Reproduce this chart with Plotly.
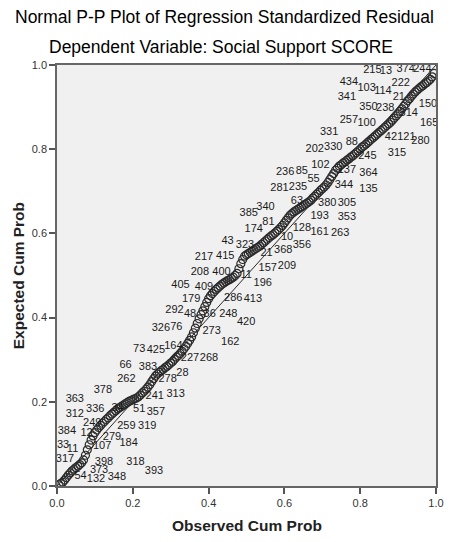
import plotly.graph_objects as go

# Observed cumulative probability (x) and expected cumulative probability (y) of the residual points
observed = [0.005, 0.010, 0.015, 0.020, 0.025, 0.030, 0.035, 0.040, 0.045, 0.050,
            0.055, 0.060, 0.065, 0.070, 0.075, 0.080, 0.085, 0.090, 0.095, 0.100,
            0.105, 0.110, 0.115, 0.120, 0.125, 0.130, 0.135, 0.140, 0.145, 0.150,
            0.155, 0.160, 0.165, 0.170, 0.175, 0.180, 0.185, 0.190, 0.195, 0.200,
            0.205, 0.210, 0.215, 0.220, 0.225, 0.230, 0.235, 0.240, 0.245, 0.250,
            0.255, 0.260, 0.265, 0.270, 0.275, 0.280, 0.285, 0.290, 0.295, 0.300,
            0.305, 0.310, 0.315, 0.320, 0.325, 0.330, 0.335, 0.340, 0.345, 0.350,
            0.355, 0.360, 0.365, 0.370, 0.375, 0.380, 0.385, 0.390, 0.395, 0.400,
            0.405, 0.410, 0.415, 0.420, 0.425, 0.430, 0.435, 0.440, 0.445, 0.450,
            0.455, 0.460, 0.465, 0.470, 0.475, 0.480, 0.485, 0.490, 0.495, 0.500,
            0.505, 0.510, 0.515, 0.520, 0.525, 0.530, 0.535, 0.540, 0.545, 0.550,
            0.555, 0.560, 0.565, 0.570, 0.575, 0.580, 0.585, 0.590, 0.595, 0.600,
            0.605, 0.610, 0.615, 0.620, 0.625, 0.630, 0.635, 0.640, 0.645, 0.650,
            0.655, 0.660, 0.665, 0.670, 0.675, 0.680, 0.685, 0.690, 0.695, 0.700,
            0.705, 0.710, 0.715, 0.720, 0.725, 0.730, 0.735, 0.740, 0.745, 0.750,
            0.755, 0.760, 0.765, 0.770, 0.775, 0.780, 0.785, 0.790, 0.795, 0.800,
            0.805, 0.810, 0.815, 0.820, 0.825, 0.830, 0.835, 0.840, 0.845, 0.850,
            0.855, 0.860, 0.865, 0.870, 0.875, 0.880, 0.885, 0.890, 0.895, 0.900,
            0.905, 0.910, 0.915, 0.920, 0.925, 0.930, 0.935, 0.940, 0.945, 0.950,
            0.955, 0.960, 0.965, 0.970, 0.975, 0.980, 0.985, 0.990, 0.995]
expected = [0.003, 0.006, 0.009, 0.014, 0.020, 0.026, 0.031, 0.036, 0.040, 0.044,
            0.047, 0.051, 0.055, 0.062, 0.073, 0.086, 0.098, 0.109, 0.119, 0.127,
            0.133, 0.139, 0.144, 0.149, 0.153, 0.158, 0.162, 0.167, 0.171, 0.175,
            0.179, 0.183, 0.186, 0.189, 0.192, 0.195, 0.198, 0.201, 0.203, 0.205,
            0.207, 0.209, 0.212, 0.216, 0.221, 0.225, 0.230, 0.235, 0.241, 0.248,
            0.255, 0.261, 0.266, 0.270, 0.274, 0.277, 0.281, 0.284, 0.288, 0.292,
            0.296, 0.301, 0.306, 0.310, 0.315, 0.320, 0.326, 0.332, 0.339, 0.346,
            0.354, 0.364, 0.375, 0.386, 0.397, 0.407, 0.416, 0.426, 0.436, 0.445,
            0.452, 0.457, 0.462, 0.467, 0.471, 0.475, 0.479, 0.482, 0.485, 0.488,
            0.490, 0.493, 0.496, 0.500, 0.505, 0.516, 0.528, 0.538, 0.546, 0.549,
            0.552, 0.555, 0.558, 0.561, 0.564, 0.567, 0.570, 0.574, 0.578, 0.582,
            0.586, 0.590, 0.594, 0.597, 0.601, 0.605, 0.609, 0.614, 0.619, 0.625,
            0.631, 0.637, 0.643, 0.647, 0.651, 0.654, 0.657, 0.660, 0.663, 0.666,
            0.669, 0.672, 0.675, 0.679, 0.684, 0.688, 0.693, 0.697, 0.702, 0.706,
            0.710, 0.715, 0.721, 0.728, 0.735, 0.742, 0.750, 0.755, 0.760, 0.763,
            0.767, 0.770, 0.774, 0.777, 0.781, 0.784, 0.788, 0.792, 0.796, 0.800,
            0.805, 0.808, 0.812, 0.816, 0.820, 0.824, 0.828, 0.832, 0.836, 0.840,
            0.844, 0.848, 0.852, 0.856, 0.860, 0.864, 0.869, 0.874, 0.879, 0.884,
            0.890, 0.896, 0.902, 0.908, 0.915, 0.920, 0.926, 0.931, 0.936, 0.940,
            0.944, 0.948, 0.951, 0.955, 0.958, 0.962, 0.966, 0.972, 0.980]

# Case-number labels and where they sit (data coordinates)
label_text = ["215", "13", "374", "244", "434", "103", "114", "222", "21", "341",
              "350", "238", "314", "150", "257", "100", "165", "331", "42", "121",
              "280", "202", "330", "88", "245", "315", "236", "85", "102", "55",
              "137", "364", "344", "135", "281", "235", "63", "380", "305", "340",
              "385", "193", "353", "81", "174", "128", "161", "263", "10", "43",
              "323", "356", "368", "21", "217", "415", "157", "209", "208", "400",
              "11", "196", "405", "409", "179", "286", "413", "292", "48", "36",
              "248", "420", "326", "76", "273", "162", "73", "425", "164", "227",
              "268", "66", "383", "262", "278", "28", "378", "241", "313", "363",
              "336", "34", "51", "357", "312", "249", "259", "319", "384", "12",
              "279", "184", "33", "11", "107", "317", "398", "318", "373", "393",
              "54", "132", "348"]
label_x = [0.832, 0.868, 0.920, 0.964, 0.770, 0.817, 0.860, 0.907, 0.902, 0.765,
           0.822, 0.866, 0.928, 0.979, 0.770, 0.817, 0.982, 0.718, 0.881, 0.922,
           0.959, 0.680, 0.729, 0.778, 0.819, 0.897, 0.602, 0.646, 0.695, 0.677,
           0.765, 0.822, 0.757, 0.822, 0.587, 0.636, 0.633, 0.713, 0.765, 0.550,
           0.506, 0.693, 0.765, 0.558, 0.519, 0.646, 0.693, 0.747, 0.607, 0.450,
           0.496, 0.646, 0.597, 0.553, 0.388, 0.444, 0.556, 0.607, 0.377, 0.434,
           0.499, 0.543, 0.326, 0.388, 0.354, 0.465, 0.517, 0.310, 0.351, 0.403,
           0.452, 0.499, 0.274, 0.315, 0.408, 0.457, 0.217, 0.261, 0.307, 0.351,
           0.401, 0.181, 0.240, 0.183, 0.292, 0.331, 0.121, 0.258, 0.313, 0.047,
           0.101, 0.160, 0.217, 0.261, 0.047, 0.093, 0.183, 0.238, 0.026, 0.078,
           0.145, 0.189, 0.016, 0.041, 0.119, 0.021, 0.124, 0.207, 0.111, 0.256,
           0.062, 0.103, 0.158]
label_y = [0.988, 0.986, 0.990, 0.990, 0.960, 0.945, 0.938, 0.957, 0.924, 0.924,
           0.900, 0.898, 0.886, 0.907, 0.869, 0.862, 0.862, 0.841, 0.829, 0.829,
           0.819, 0.800, 0.805, 0.817, 0.784, 0.791, 0.746, 0.748, 0.762, 0.729,
           0.751, 0.743, 0.715, 0.705, 0.708, 0.710, 0.677, 0.672, 0.672, 0.663,
           0.648, 0.641, 0.639, 0.627, 0.610, 0.613, 0.603, 0.601, 0.591, 0.582,
           0.572, 0.572, 0.561, 0.553, 0.544, 0.546, 0.518, 0.523, 0.508, 0.508,
           0.501, 0.482, 0.477, 0.473, 0.444, 0.447, 0.444, 0.418, 0.409, 0.409,
           0.409, 0.390, 0.375, 0.378, 0.368, 0.342, 0.325, 0.323, 0.333, 0.304,
           0.304, 0.287, 0.283, 0.254, 0.254, 0.268, 0.228, 0.214, 0.219, 0.207,
           0.183, 0.185, 0.183, 0.176, 0.171, 0.150, 0.143, 0.143, 0.131, 0.126,
           0.116, 0.102, 0.097, 0.088, 0.095, 0.064, 0.057, 0.057, 0.038, 0.036,
           0.024, 0.017, 0.021]

ref_line = [0.0, 1.0]
tick_vals = [0.0, 0.2, 0.4, 0.6, 0.8, 1.0]
tick_text = ["0.0", "0.2", "0.4", "0.6", "0.8", "1.0"]

FONT = "Liberation Sans, Arial, sans-serif"

fig = go.Figure()
fig.add_trace(go.Scatter(x=ref_line, y=ref_line, mode="lines",
                         line=dict(color="#2a2a2a", width=1), hoverinfo="skip"))
fig.add_trace(go.Scatter(x=observed, y=expected, mode="markers",
                         marker=dict(symbol="circle-open", size=8,
                                     color="#2b2b2b", line=dict(width=1.2, color="#2b2b2b"))))
fig.add_trace(go.Scatter(x=label_x, y=label_y, mode="text", text=label_text,
                         textposition="middle center",
                         textfont=dict(family=FONT, size=11, color="#1a1a1a")))

axis_common = dict(range=[0, 1], tickvals=tick_vals, ticktext=tick_text,
                   ticks="outside", ticklen=6, tickwidth=1.5, tickcolor="#555555",
                   showgrid=False, zeroline=False, showline=True, linewidth=1.5,
                   linecolor="#666666", mirror=True,
                   tickfont=dict(family=FONT, size=11, color="#333333"))

fig.update_layout(
    width=455, height=542,
    margin=dict(l=57, r=11, t=65, b=56),
    paper_bgcolor="white", plot_bgcolor="#f0f0f0",
    showlegend=False,
    xaxis=axis_common,
    yaxis=axis_common,
    annotations=[
        dict(text="Normal P-P Plot of Regression Standardized Residual", x=0.442, y=1.114,
             xref="paper", yref="paper", showarrow=False, xanchor="center", yanchor="middle",
             font=dict(family=FONT, size=17.5, color="#000000")),
        dict(text="Dependent Variable: Social Support SCORE", x=0.434, y=1.043,
             xref="paper", yref="paper", showarrow=False, xanchor="center", yanchor="middle",
             font=dict(family=FONT, size=17.5, color="#000000")),
        dict(text="<b>Observed Cum Prob</b>", x=0.5, y=-0.093,
             xref="paper", yref="paper", showarrow=False, xanchor="center", yanchor="middle",
             font=dict(family=FONT, size=15.5, color="#222222")),
        dict(text="<b>Expected Cum Prob</b>", x=-0.101, y=0.5, textangle=-90,
             xref="paper", yref="paper", showarrow=False, xanchor="center", yanchor="middle",
             font=dict(family=FONT, size=15.5, color="#222222")),
    ],
)

fig.write_html("out.html")
